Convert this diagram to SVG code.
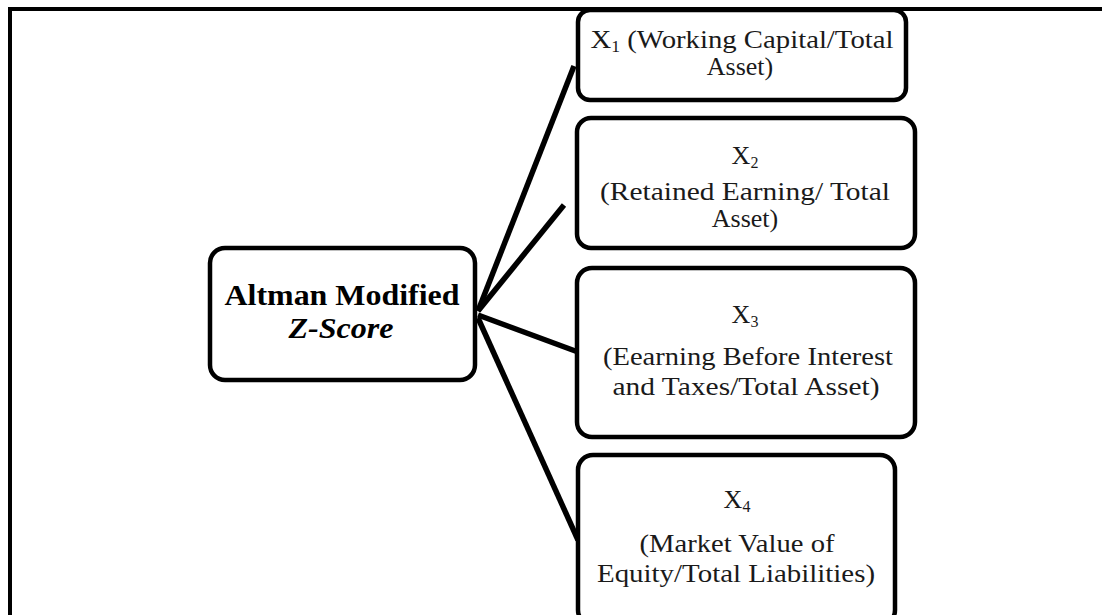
<svg xmlns="http://www.w3.org/2000/svg" width="1102" height="615" viewBox="0 0 1102 615">
<style>
.box{fill:#fff;stroke:#000;stroke-width:4.5}
.t{font-family:"Liberation Serif","Times New Roman",serif;font-size:26px;fill:#1a1a1a;text-anchor:middle}
.sub{font-size:16px}
.b{font-family:"Liberation Serif","Times New Roman",serif;font-size:30px;font-weight:bold;fill:#000;text-anchor:middle}
.conn{stroke:#000;stroke-width:5.5;stroke-linecap:butt;fill:none}
</style>
<rect width="1102" height="615" fill="#fff"/>
<path d="M10,615 V9 H1102" fill="none" stroke="#000" stroke-width="4"/>
<g id="connectors">
<line class="conn" x1="478" y1="311" x2="574" y2="66"/>
<line class="conn" x1="478" y1="311" x2="564" y2="205"/>
<line class="conn" x1="478" y1="315" x2="578" y2="352"/>
<line class="conn" x1="478" y1="318" x2="578" y2="540"/>
</g>
<g id="zscore">
<rect class="box" x="210" y="248" width="265" height="132" rx="15"/>
<text class="b" x="342" y="305" textLength="235" lengthAdjust="spacingAndGlyphs">Altman Modified</text>
<text class="b" x="341" y="338" font-style="italic" textLength="105" lengthAdjust="spacingAndGlyphs">Z-Score</text>
</g>
<g id="x1">
<rect class="box" x="578" y="10" width="328" height="90" rx="12"/>
<text class="t" x="742" y="48" textLength="303" lengthAdjust="spacingAndGlyphs">X<tspan class="sub" dy="4">1</tspan><tspan dy="-4"> (Working Capital/Total</tspan></text>
<text class="t" x="740" y="75">Asset)</text>
</g>
<g id="x2">
<rect class="box" x="577" y="118" width="338" height="130" rx="14"/>
<text class="t" x="745" y="164">X<tspan class="sub" dy="4">2</tspan></text>
<text class="t" x="745" y="200" textLength="290" lengthAdjust="spacingAndGlyphs">(Retained Earning/ Total</text>
<text class="t" x="745" y="227">Asset)</text>
</g>
<g id="x3">
<rect class="box" x="577" y="268" width="338" height="169" rx="15"/>
<text class="t" x="745" y="323">X<tspan class="sub" dy="4">3</tspan></text>
<text class="t" x="748" y="365" textLength="290" lengthAdjust="spacingAndGlyphs">(Eearning Before Interest</text>
<text class="t" x="746" y="395" textLength="267" lengthAdjust="spacingAndGlyphs">and Taxes/Total Asset)</text>
</g>
<g id="x4">
<rect class="box" x="578" y="455" width="317" height="170" rx="15"/>
<text class="t" x="737" y="508">X<tspan class="sub" dy="4">4</tspan></text>
<text class="t" x="737" y="552" textLength="195" lengthAdjust="spacingAndGlyphs">(Market Value of</text>
<text class="t" x="736" y="582" textLength="278" lengthAdjust="spacingAndGlyphs">Equity/Total Liabilities)</text>
</g>
</svg>
